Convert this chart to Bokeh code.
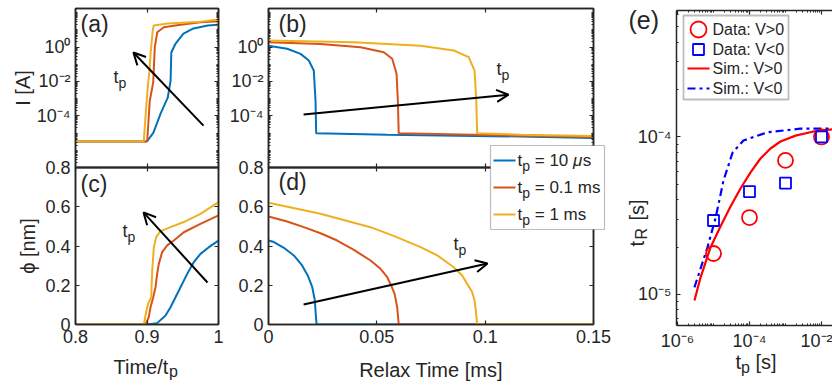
import math
from bokeh.embed import file_html
from bokeh.resources import INLINE
from bokeh.plotting import figure
from bokeh.models import (Range1d, LogScale, LinearAxis, LogAxis, FixedTicker,
                          CustomJSTickFormatter, Arrow, OpenHead, Label, BoxAnnotation, GridBox)

W, H = 832, 388
FONT = "Liberation Sans"
INK = "#262626"
TP_COLORS = ["#0072BD", "#D95319", "#EDB120"]

# ---------------- data ----------------
# (a) current during the pulse vs normalised time
a_t_10us = [0.800, 0.8985, 0.9007, 0.909, 0.919, 0.929, 0.933, 0.934, 0.940, 0.951, 0.965, 0.985, 0.9995, 1.000]
a_I_10us = [3.2e-6, 3.2e-6, 3.6e-6, 1.07e-5, 1.35e-4, 1.15e-3, 1.1e-2, 0.48, 1.6, 6.0, 12.0, 18.0, 20.0, 1.2]
a_t_01ms = [0.800, 0.8995, 0.9003, 0.9039, 0.9087, 0.9109, 0.9143, 0.9235, 0.9469, 0.9748, 0.9995, 1.000]
a_I_01ms = [3.2e-6, 3.2e-6, 3.6e-6, 7.8e-4, 8.9e-3, 0.98, 7.2, 14.0, 20.0, 27.5, 31.6, 1.9]
a_t_1ms = [0.800, 0.8955, 0.8985, 0.9015, 0.9035, 0.905, 0.908, 0.9095, 0.929, 0.975, 0.9995, 1.000]
a_I_1ms = [3.2e-6, 3.2e-6, 2.0e-4, 7.5e-3, 0.042, 0.42, 9.1, 17.8, 23.0, 30.0, 40.0, 2.4]

# (b) current during relaxation [ms]
b_t_10us = [0.0, 0.0086, 0.0148, 0.0186, 0.0209, 0.0217, 0.0220, 0.0548, 0.1163, 0.15]
b_I_10us = [1.2, 0.79, 0.40, 0.165, 0.043, 7.8e-4, 9.8e-6, 8.1e-6, 6.3e-6, 5.1e-6]
b_t_01ms = [0.0, 0.024, 0.0425, 0.0532, 0.0571, 0.0591, 0.0597, 0.0601, 0.1163, 0.15]
b_I_01ms = [1.9, 1.5, 0.97, 0.50, 0.21, 0.028, 7.8e-4, 9.8e-6, 7.1e-6, 5.9e-6]
b_t_1ms = [0.0, 0.0394, 0.0702, 0.0855, 0.0924, 0.0951, 0.0959, 0.0963, 0.1163, 0.15]
b_I_1ms = [2.4, 1.9, 1.2, 0.63, 0.26, 0.043, 7.8e-4, 9.8e-6, 8.1e-6, 6.7e-6]

# (c) filament gap phi [nm] during the pulse
c_t_10us = [0.800, 0.9002, 0.9142, 0.9259, 0.9329, 0.9399, 0.9469, 0.9562, 0.9655, 0.9748, 0.9865, 1.000]
c_phi_10us = [0.0, 0.0, 0.007, 0.046, 0.088, 0.139, 0.190, 0.258, 0.318, 0.360, 0.394, 0.428]
c_t_01ms = [0.800, 0.8979, 0.9026, 0.9049, 0.9087, 0.9119, 0.9142, 0.9165, 0.9212, 0.9282, 0.9375, 0.9515, 0.9748, 1.000]
c_phi_01ms = [0.0, 0.0, 0.039, 0.088, 0.139, 0.190, 0.258, 0.309, 0.369, 0.403, 0.428, 0.470, 0.513, 0.556]
c_t_1ms = [0.800, 0.8956, 0.8989, 0.9017, 0.9059, 0.9073, 0.9096, 0.9128, 0.9189, 0.9329, 0.9515, 0.9748, 1.000]
c_phi_1ms = [0.0, 0.0, 0.065, 0.107, 0.139, 0.275, 0.394, 0.445, 0.476, 0.496, 0.522, 0.564, 0.624]

# (d) phi [nm] during relaxation [ms]
d_t_10us = [0.0, 0.0025, 0.0071, 0.0117, 0.0155, 0.0181, 0.0202, 0.0214, 0.0218, 0.0222, 0.15]
d_phi_10us = [0.428, 0.420, 0.391, 0.352, 0.301, 0.250, 0.190, 0.122, 0.054, 0.0, 0.0]
d_t_01ms = [0.0, 0.0086, 0.0163, 0.024, 0.0317, 0.0394, 0.0471, 0.0517, 0.0548, 0.0566, 0.0582, 0.0594, 0.0601, 0.15]
d_phi_01ms = [0.550, 0.525, 0.496, 0.465, 0.428, 0.380, 0.326, 0.284, 0.241, 0.199, 0.156, 0.088, 0.0, 0.0]
d_t_1ms = [0.0, 0.024, 0.0355, 0.0471, 0.0586, 0.0702, 0.0779, 0.0855, 0.0894, 0.0917, 0.0940, 0.0951, 0.0957, 0.0963, 0.15]
d_phi_1ms = [0.620, 0.564, 0.530, 0.496, 0.448, 0.394, 0.352, 0.292, 0.250, 0.207, 0.165, 0.122, 0.071, 0.0, 0.0]

tp_labels = ["10 ", "0.1 ms", "1 ms"]

# (e) retention time vs pulse width
e_tp = [1e-5, 1e-4, 1e-3, 1e-2]
e_tR_pos = [1.82e-5, 3.08e-5, 7.1e-5, 1.0e-4]
e_tR_neg = [2.95e-5, 4.5e-5, 5.1e-5, 1.0e-4]
sim_tp_pos = [2.96e-6, 4.36e-6, 8.25e-6, 1.56e-5, 2.97e-5, 5.62e-5, 1.07e-4, 2.02e-4, 3.83e-4, 7.26e-4, 1.9e-3, 5.62e-3, 2.02e-2]
sim_tR_pos = [9.16e-6, 1.28e-5, 1.99e-5, 2.70e-5, 3.62e-5, 4.71e-5, 5.96e-5, 7.30e-5, 8.45e-5, 9.36e-5, 1.02e-4, 1.08e-4, 1.12e-4]
sim_tp_neg = [2.95e-6, 6.8e-6, 1.15e-5, 1.9e-5, 3.4e-5, 6.8e-5, 3.16e-4, 2.6e-3, 2.02e-2]
sim_tR_neg = [1.11e-5, 1.99e-5, 3.08e-5, 5.3e-5, 7.97e-5, 9.5e-5, 1.07e-4, 1.13e-4, 1.13e-4]

# ---------------- helpers ----------------
LOG_JS = """
const e = Math.round(Math.log10(tick));
const m = {'-':'\u207b','0':'\u2070','1':'\u00b9','2':'\u00b2','3':'\u00b3','4':'\u2074',
           '5':'\u2075','6':'\u2076','7':'\u2077','8':'\u2078','9':'\u2079'};
return '10' + String(e).split('').map(c => m[c]).join('');
"""
LIN_JS = "return String(tick);"
NONE_JS = "return '';"


def log_minors(lo, hi):
    return [k * 10.0 ** n for n in range(lo, hi + 1) for k in range(1, 10)]


def panel(frame, xr, yr, xlog=False, ylog=False, outline=True):
    l, t, r, b = frame
    p = figure(width=W, height=H, x_range=Range1d(*xr), y_range=Range1d(*yr),
               x_axis_type=None, y_axis_type=None, output_backend="svg",
               toolbar_location=None, title=None, frame_align=False,
               min_border_left=l, min_border_right=W - r,
               min_border_top=t, min_border_bottom=H - b)
    if xlog:
        p.x_scale = LogScale()
    if ylog:
        p.y_scale = LogScale()
    p.background_fill_color = None
    p.border_fill_color = None
    p.outline_line_color = INK if outline else None
    p.outline_line_width = 1.5
    return p


def add_axis(p, side, log, ticks, minor=(), labels=True, label=None, standoff=6):
    cls = LogAxis if log else LinearAxis
    code = (LOG_JS if log else LIN_JS) if labels else NONE_JS
    ax = cls(ticker=FixedTicker(ticks=list(ticks), minor_ticks=list(minor)),
             formatter=CustomJSTickFormatter(code=code))
    ax.axis_line_color = INK
    ax.axis_line_width = 1.5
    ax.major_tick_line_color = INK
    ax.major_tick_line_width = 1.2
    ax.major_tick_in = 4
    ax.major_tick_out = 0
    ax.minor_tick_line_color = INK if minor else None
    ax.minor_tick_line_width = 1
    ax.minor_tick_in = 2
    ax.minor_tick_out = 0
    ax.major_label_text_font = FONT
    ax.major_label_text_color = INK
    if labels:
        ax.major_label_text_font_size = "18px"
        ax.major_label_standoff = 5
    else:
        ax.major_label_text_font_size = "0px"
        ax.major_label_standoff = 0
    if label:
        ax.axis_label = label
        ax.axis_label_text_font = FONT
        ax.axis_label_text_font_size = "20px"
        ax.axis_label_text_font_style = "normal"
        ax.axis_label_text_color = INK
        ax.axis_label_standoff = standoff
    p.add_layout(ax, side)
    return ax


def arrow(p, x0, y0, x1, y1):
    p.add_layout(Arrow(end=OpenHead(size=12, line_width=2, line_color="black"),
                       x_start=x0, y_start=y0, x_end=x1, y_end=y1,
                       line_width=2, line_color="black"))


I_RANGE = (1e-7, 10 ** 2.24)
I_MAJOR = [1e-4, 1e-2, 1.0]
I_MINOR = log_minors(-7, 2)
PHI_TICKS = [0, 0.2, 0.4, 0.6, 0.8]
NORM_TICKS = [0.8, 0.9, 1.0]
RELAX_TICKS = [0, 0.05, 0.1, 0.15]

# ---------------- (a) ----------------
fa = panel((75, 8, 218, 167), (0.8, 1.0), I_RANGE, ylog=True)
add_axis(fa, "left", True, I_MAJOR, I_MINOR, label="I [A]", standoff=0)
add_axis(fa, "right", True, I_MAJOR, I_MINOR, labels=False)
add_axis(fa, "below", False, NORM_TICKS, labels=False)
add_axis(fa, "above", False, NORM_TICKS, labels=False)
for xs, ys, c in zip([a_t_10us, a_t_01ms, a_t_1ms], [a_I_10us, a_I_01ms, a_I_1ms], TP_COLORS):
    fa.line(xs, ys, line_color=c, line_width=2)
arrow(fa, 0.979, 2.7e-5, 0.881, 0.48)

# ---------------- (b) ----------------
fb = panel((268, 8, 593, 167), (0.0, 0.15), I_RANGE, ylog=True)
add_axis(fb, "left", True, I_MAJOR, I_MINOR)
add_axis(fb, "right", True, I_MAJOR, I_MINOR, labels=False)
add_axis(fb, "below", False, RELAX_TICKS, labels=False)
add_axis(fb, "above", False, RELAX_TICKS, labels=False)
for xs, ys, c in zip([b_t_10us, b_t_01ms, b_t_1ms], [b_I_10us, b_I_01ms, b_I_1ms], TP_COLORS):
    fb.line(xs, ys, line_color=c, line_width=2)
arrow(fb, 0.0162, 1.2e-4, 0.1108, 1.7e-3)

# ---------------- (c) ----------------
fc = panel((75, 167, 218, 324), (0.8, 1.0), (0.0, 0.8))
add_axis(fc, "left", False, PHI_TICKS, label="\u03d5 [nm]", standoff=3)
add_axis(fc, "right", False, PHI_TICKS, labels=False)
add_axis(fc, "below", False, NORM_TICKS)
add_axis(fc, "above", False, NORM_TICKS, labels=False)
for xs, ys, c in zip([c_t_10us, c_t_01ms, c_t_1ms], [c_phi_10us, c_phi_01ms, c_phi_1ms], TP_COLORS):
    fc.line(xs, ys, line_color=c, line_width=2)
arrow(fc, 0.9846, 0.214, 0.8951, 0.571)

# ---------------- (d) ----------------
fd = panel((268, 167, 593, 324), (0.0, 0.15), (0.0, 0.8))
add_axis(fd, "left", False, PHI_TICKS)
add_axis(fd, "right", False, PHI_TICKS, labels=False)
add_axis(fd, "below", False, RELAX_TICKS, label="Relax Time [ms]", standoff=13)
add_axis(fd, "above", False, RELAX_TICKS, labels=False)
for xs, ys, c in zip([d_t_10us, d_t_01ms, d_t_1ms], [d_phi_10us, d_phi_01ms, d_phi_1ms], TP_COLORS):
    fd.line(xs, ys, line_color=c, line_width=2)
arrow(fd, 0.0162, 0.102, 0.1011, 0.311)

# ---------------- (e) ----------------
fe = panel((676, 10, 832, 325), (10 ** -6.028, 10 ** -1.694), (10 ** -5.197, 10 ** -3.197),
           xlog=True, ylog=True, outline=False)
add_axis(fe, "left", True, [1e-5, 1e-4], log_minors(-6, -3))
add_axis(fe, "below", True, [1e-6, 1e-4, 1e-2], log_minors(-7, -1))
add_axis(fe, "above", True, [1e-6, 1e-4, 1e-2], log_minors(-7, -1), labels=False)
fe.line(sim_tp_pos, sim_tR_pos, line_color="#FF0000", line_width=2.2)
fe.line(sim_tp_neg, sim_tR_neg, line_color="#0000FF", line_width=2.2, line_dash="8 4 3 4")
fe.scatter(e_tp, e_tR_pos, marker="circle", size=15, fill_color=None,
           line_color="#FF0000", line_width=1.8)
fe.scatter(e_tp, e_tR_neg, marker="square", size=11, fill_color=None,
           line_color="#0000FF", line_width=1.8)

# ---------------- text layer (pixel coordinates, y down) ----------------
ov = figure(width=W, height=H, x_range=Range1d(0, W), y_range=Range1d(H, 0),
            x_axis_type=None, y_axis_type=None, output_backend="svg",
            toolbar_location=None, title=None, frame_align=False,
            min_border_left=0, min_border_right=0, min_border_top=0, min_border_bottom=0)
ov.background_fill_color = None
ov.border_fill_color = None
ov.outline_line_color = None

ADV = {' ': 278, '(': 333, ')': 333, '.': 278, '/': 278, ':': 278, '=': 584, '>': 584,
       '<': 584, '[': 278, ']': 278, 'A': 667, 'D': 722, 'I': 278, 'R': 722, 'S': 667,
       'T': 611, 'V': 667, 'a': 556, 'e': 556, 'i': 222, 'm': 833, 'n': 556, 'p': 556,
       's': 500, 't': 278, '\u03bc': 576}


def width(s, size):
    return sum(ADV.get(ch, 556) for ch in s) * size / 1000.0


def text(x, y, s, size, style="normal", angle=0.0, color=INK):
    """x, y: start of the baseline; the label is anchored on its middle line"""
    shift = 0.35 * size
    if angle:
        x -= shift
    else:
        y -= shift
    ov.add_layout(Label(x=x, y=y, text=s, angle=angle, text_font=FONT,
                        text_font_size=f"{size}px", text_font_style=style,
                        text_color=color, text_baseline="middle", text_align="left"))


def rich(x, y, pieces):
    """pieces: (string, size, baseline drop, style) laid out left to right"""
    pos = x
    for s, size, drop, style in pieces:
        body = s.lstrip(" ")
        lead = width(s[:len(s) - len(body)], size)
        text(pos + lead, y + drop, body, size, style)
        pos += width(s, size)


def tp(x, y, size=18, rest=None):
    pieces = [("t", size, 0, "normal"), ("p", round(size * 0.8), round(size * 0.25), "normal")]
    if rest:
        pieces += rest
    rich(x, y, pieces)


# panel letters
text(80, 32, "(a)", 23)
text(278, 32, "(b)", 23)
text(80, 192, "(c)", 23)
text(278, 190, "(d)", 23)
text(628, 28, "(e)", 25)

# t_p next to the arrows
tp(113, 83)
tp(496, 75)
tp(122, 237)
tp(453, 250)

# axis titles with subscripts
rich(113, 373, [("Time/t", 20, 0, "normal"), ("p", 16, 4, "normal")])
rich(735, 368, [("t", 20, 0, "normal"), ("p", 16, 5, "normal"), (" [s]", 20, 0, "normal")])
text(643, 246, "t", 20, angle=math.pi / 2)
text(647, 239, "R", 16, angle=math.pi / 2)
text(643, 220, "[s]", 20, angle=math.pi / 2)

# legend for (b)/(d)
ov.add_layout(BoxAnnotation(left=490, right=604, top=145, bottom=229, fill_color="white",
                            fill_alpha=1.0, line_color=INK, line_width=1.2, level="underlay"))
for i, (c, lab) in enumerate(zip(TP_COLORS, tp_labels)):
    yc = 160 + 27 * i
    ov.segment(x0=[493], y0=[yc], x1=[515], y1=[yc], line_color=c, line_width=2)
    if i == 0:
        rest = [(" = " + lab, 17, 0, "normal"), ("\u03bc", 17, 0, "italic"), ("s", 17, 0, "normal")]
    else:
        rest = [(" = " + lab, 17, 0, "normal")]
    tp(517, yc + 6, 17, rest)

# legend for (e)
ov.add_layout(BoxAnnotation(left=683, right=788, top=15, bottom=99, fill_color="white",
                            fill_alpha=1.0, line_color=INK, line_width=1.8, level="underlay"))
ov.scatter(x=[698], y=[29], marker="circle", size=16, fill_color=None, line_color="#FF0000", line_width=1.8)
ov.scatter(x=[698], y=[49], marker="square", size=11, fill_color=None, line_color="#0000FF", line_width=1.8)
ov.segment(x0=[687], y0=[68], x1=[709], y1=[68], line_color="#FF0000", line_width=2.2)
ov.segment(x0=[687], y0=[88], x1=[709], y1=[88], line_color="#0000FF", line_width=2.2, line_dash="8 4 3 4")
for yb, s in zip([35, 55, 74, 94], ["Data: V>0", "Data: V<0", "Sim.: V>0", "Sim.: V<0"]):
    text(712, yb, s, 16)

layout = GridBox(children=[(fa, 0, 0), (fb, 0, 0), (fc, 0, 0), (fd, 0, 0), (fe, 0, 0), (ov, 0, 0)])

with open("out.html", "w") as f:
    f.write(file_html(layout, INLINE))
